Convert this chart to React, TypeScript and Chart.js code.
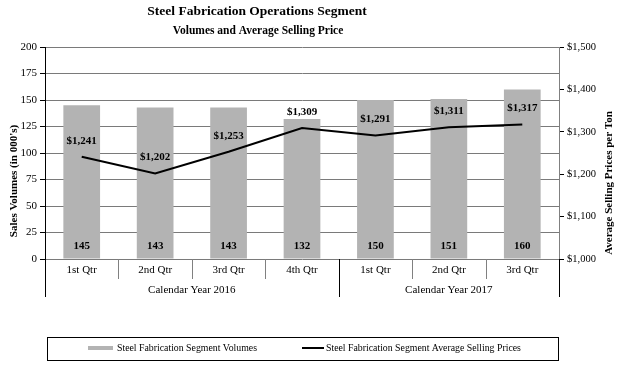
import React, { useEffect, useRef } from "react";
import { Chart, registerables } from "chart.js";

Chart.register(...registerables);

const categories = ["1st Qtr", "2nd Qtr", "3rd Qtr", "4th Qtr", "1st Qtr", "2nd Qtr", "3rd Qtr"];
const groups = ["Calendar Year 2016", "Calendar Year 2017"];
const groupSizes = [4, 3];
const volumes = [145, 143, 143, 132, 150, 151, 160];
const prices = [1241, 1202, 1253, 1309, 1291, 1311, 1317];
const title = "Steel Fabrication Operations Segment";
const subtitle = "Volumes and Average Selling Price";
const leftTitle = "Sales Volumes (in 000's)";
const rightTitle = "Average Selling Prices per Ton";
const volLabel = "Steel Fabrication Segment Volumes";
const priceLabel = "Steel Fabrication Segment Average Selling Prices";

const SERIF = "'Liberation Serif', 'Times New Roman', serif";
const BAR_COLOR = "#b3b3b3";

const fmtPrice = (v: number) => "$" + v.toLocaleString("en-US");

const overlay = {
  id: "overlay",
  afterDraw(chart: any) {
    const ctx = chart.ctx as CanvasRenderingContext2D;
    const area = chart.chartArea;
    const xs = chart.scales.x;
    ctx.save();
    ctx.fillStyle = "#000";
    ctx.textAlign = "center";
    ctx.textBaseline = "middle";
    // titles
    ctx.font = `bold 13.5px ${SERIF}`;
    ctx.fillText(title, 257, 12);
    ctx.font = `bold 11.5px ${SERIF}`;
    ctx.fillText(subtitle, 258, 31);
    // axis titles
    ctx.font = `bold 11px ${SERIF}`;
    ctx.save();
    ctx.translate(14, 181);
    ctx.rotate(-Math.PI / 2);
    ctx.fillText(leftTitle, 0, 0);
    ctx.restore();
    ctx.save();
    ctx.translate(609, 183);
    ctx.rotate(-Math.PI / 2);
    ctx.fillText(rightTitle, 0, 0);
    ctx.restore();

    // category separators and labels
    const n = categories.length;
    const w = (area.right - area.left) / n;
    ctx.font = `11px ${SERIF}`;
    for (let i = 0; i < n; i++) {
      const cx = xs.getPixelForValue(i);
      ctx.fillText(categories[i], cx, 270);
    }
    let acc = 0;
    const groupBounds = [0];
    for (const g of groupSizes) {
      acc += g;
      groupBounds.push(acc);
    }
    for (let i = 0; i <= n; i++) {
      const bx = Math.round(area.left + i * w) + 0.5;
      const isGroup = groupBounds.includes(i);
      ctx.beginPath();
      ctx.strokeStyle = isGroup ? "#000" : "#808080";
      ctx.lineWidth = 1;
      ctx.moveTo(bx, area.bottom);
      ctx.lineTo(bx, isGroup ? 297 : 279);
      ctx.stroke();
    }
    for (let g = 0; g < groups.length; g++) {
      const x0 = area.left + groupBounds[g] * w;
      const x1 = area.left + groupBounds[g + 1] * w;
      ctx.fillText(groups[g], (x0 + x1) / 2, 290);
    }

    // data labels
    ctx.font = `bold 11px ${SERIF}`;
    const barMeta = chart.getDatasetMeta(0);
    barMeta.data.forEach((el: any, i: number) => {
      ctx.fillText(String(volumes[i]), el.x, 246);
    });
    const lineMeta = chart.getDatasetMeta(1);
    lineMeta.data.forEach((el: any, i: number) => {
      ctx.fillText(fmtPrice(prices[i]), el.x, el.y - 16);
    });

    // legend
    ctx.strokeStyle = "#000";
    ctx.lineWidth = 1;
    ctx.strokeRect(47.5, 337.5, 511, 23);
    ctx.fillStyle = BAR_COLOR;
    ctx.fillRect(88, 346, 25, 4);
    ctx.beginPath();
    ctx.strokeStyle = "#000";
    ctx.lineWidth = 2;
    ctx.moveTo(302, 348);
    ctx.lineTo(324, 348);
    ctx.stroke();
    ctx.fillStyle = "#000";
    ctx.font = `9.8px ${SERIF}`;
    ctx.textAlign = "left";
    ctx.fillText(volLabel, 117, 348);
    ctx.fillText(priceLabel, 326, 348);
    ctx.restore();
  },
};

export default function App() {
  const ref = useRef<HTMLCanvasElement>(null);
  useEffect(() => {
    if (!ref.current) return;
    const chart = new Chart(ref.current, {
      type: "bar",
      data: {
        labels: categories,
        datasets: [
          {
            type: "bar",
            label: volLabel,
            data: volumes,
            backgroundColor: BAR_COLOR,
            borderWidth: 0,
            barPercentage: 0.5,
            categoryPercentage: 1.0,
            yAxisID: "y",
            order: 1,
          },
          {
            type: "line",
            label: priceLabel,
            data: prices,
            borderColor: "#000",
            borderWidth: 2,
            pointRadius: 0,
            tension: 0,
            yAxisID: "y1",
            order: 0,
          } as any,
        ],
      },
      options: {
        responsive: false,
        animation: false,
        layout: { padding: { left: 0, right: 0, top: 47, bottom: 106 } },
        plugins: {
          legend: { display: false },
          tooltip: { enabled: false },
          title: { display: false },
        },
        scales: {
          x: { display: false, offset: true },
          y: {
            position: "left",
            min: 0,
            max: 200,
            ticks: {
              stepSize: 25,
              color: "#000",
              font: { family: SERIF, size: 11 },
              padding: 3,
            },
            grid: { color: "#7a7a7a", lineWidth: 1, tickLength: 5, tickColor: "#000" },
            border: { color: "#000", width: 1 },
            afterFit: (s: any) => {
              s.width = 45;
            },
          },
          y1: {
            position: "right",
            min: 1000,
            max: 1500,
            ticks: {
              stepSize: 100,
              color: "#000",
              font: { family: SERIF, size: 10.5 },
              padding: 3,
              callback: (v: any) => fmtPrice(Number(v)),
            },
            grid: { drawOnChartArea: false, tickLength: 5, color: "#000" },
            border: { color: "#808080", width: 1 },
            afterFit: (s: any) => {
              s.width = 59;
            },
          },
        },
      },
      plugins: [overlay],
    });
    return () => chart.destroy();
  }, []);
  return (
    <div style={{ position: "fixed", left: 0, top: 0, width: 618, height: 365, background: "#fff" }}>
      <canvas ref={ref} width={618} height={365} style={{ width: 618, height: 365 }} />
    </div>
  );
}
